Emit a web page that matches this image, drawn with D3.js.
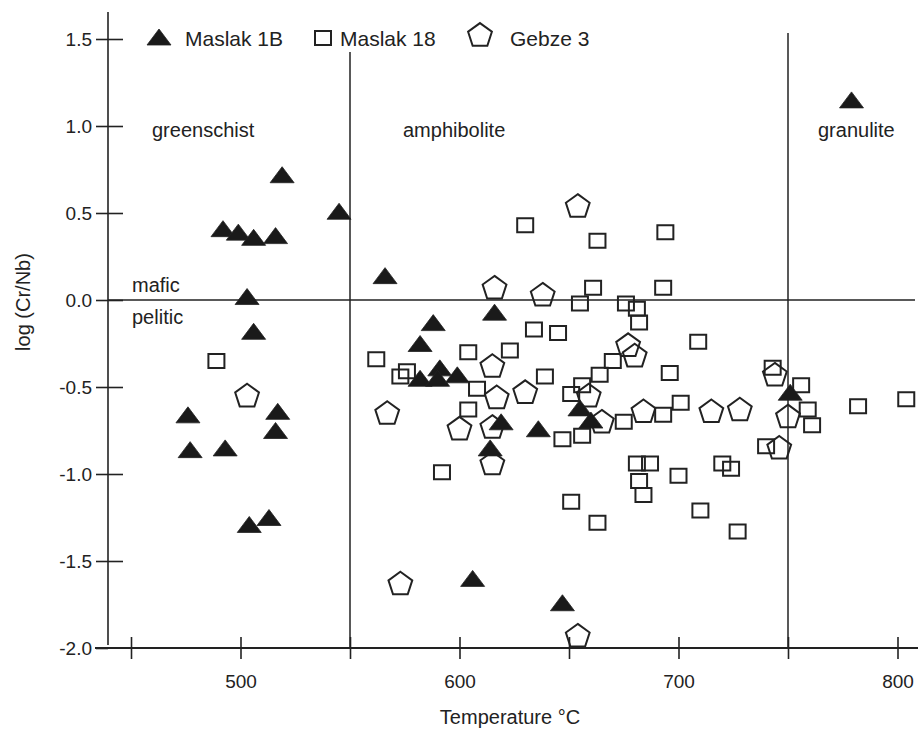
<!DOCTYPE html>
<html>
<head>
<meta charset="utf-8">
<script src="https://cdn.jsdelivr.net/npm/d3@7"></script>
<style>
  body { margin: 0; background: #fff; }
  svg text { font-family: "Liberation Sans", Arial, sans-serif; fill: #222; }
</style>
</head>
<body>
<svg id="chart"></svg>
<script>
// series: temperature (°C) and log(Cr/Nb)
var maslak1bT = [519, 545, 492, 499, 506, 516, 503, 506, 476, 517, 516, 477, 493, 504, 513,
                 566, 616, 588, 582, 582, 591, 590, 599, 619, 636, 614, 606, 647, 655, 660, 779, 751];
var maslak1bV = [0.72, 0.51, 0.41, 0.39, 0.36, 0.37, 0.02, -0.18, -0.66, -0.64, -0.75, -0.86, -0.85, -1.29, -1.25,
                 0.14, -0.07, -0.13, -0.25, -0.45, -0.39, -0.45, -0.43, -0.70, -0.74, -0.85, -1.60, -1.74, -0.62, -0.69, 1.15, -0.53];

var maslak18T = [489, 630, 634, 645, 562, 604, 623, 576, 573, 639, 608, 651, 604, 656, 664, 670, 682, 709, 696, 701,
                 693, 675, 656, 647, 681, 687, 700, 720, 724, 682, 684, 651, 663, 710, 727, 592, 663, 694, 661, 693,
                 655, 676, 681, 743, 756, 759, 761, 782, 804, 740];
var maslak18V = [-0.35, 0.43, -0.17, -0.19, -0.34, -0.30, -0.29, -0.41, -0.44, -0.44, -0.51, -0.54, -0.63, -0.49, -0.43, -0.35, -0.13, -0.24, -0.42, -0.59,
                 -0.66, -0.70, -0.78, -0.80, -0.94, -0.94, -1.01, -0.94, -0.97, -1.04, -1.12, -1.16, -1.28, -1.21, -1.33, -0.99, 0.34, 0.39, 0.07, 0.07,
                 -0.02, -0.02, -0.05, -0.39, -0.49, -0.63, -0.72, -0.61, -0.57, -0.84];

var gebze3T = [616, 638, 654, 615, 630, 617, 567, 600, 615, 615, 573, 654, 659, 665, 677, 680, 684, 715, 728, 744, 750, 746, 503];
var gebze3V = [0.07, 0.03, 0.54, -0.38, -0.53, -0.56, -0.65, -0.74, -0.73, -0.94, -1.63, -1.93, -0.55, -0.70, -0.26, -0.32, -0.64, -0.64, -0.63, -0.43, -0.67, -0.85, -0.55];

var seriesNames = ["Maslak 1B", "Maslak 18", "Gebze 3"];
var xTicks = [450, 500, 550, 600, 650, 700, 750, 800];
var xLabels = [500, 600, 700, 800];
var yTicks = [1.5, 1.0, 0.5, 0.0, -0.5, -1.0, -1.5, -2.0];
var faciesNames = ["greenschist", "amphibolite", "granulite"];
var faciesBounds = [550, 750];
var rockNames = ["mafic", "pelitic"];

var ink = "#222";

// marker shapes
var triPath = "M0,-8L12,8L-12,8Z";
var sqPath = "M-8,-7H8V7H-8Z";
var pentPath = (function()
{
    var r = 12.5, pts = [];
    for (var k = 0; k < 5; k++)
    {
        var a = -Math.PI / 2 + k * 2 * Math.PI / 5;
        pts.push([r * Math.cos(a), r * Math.sin(a) + 0.6]);
    }
    return "M" + pts.map(function(p){ return p[0].toFixed(2) + "," + p[1].toFixed(2); }).join("L") + "Z";
})();

var zip = function(ts, vs)
{
    return ts.map(function(t, i){ return {t: t, v: vs[i]}; });
};

var drawChart = function(target)
{
    var screen = {width: 918, height: 729};
    var svg = d3.select(target)
        .attr("width", screen.width)
        .attr("height", screen.height);

    var xScale = d3.scaleLinear().domain([550, 750]).range([350, 788]);
    var yScale = d3.scaleLinear().domain([0, -2]).range([300, 648]);

    // y axis (plain hyphen for negatives, as in the original)
    var fmt = d3.format(".1f");
    var yAxis = d3.axisLeft(yScale)
        .tickValues(yTicks)
        .tickFormat(function(d){ return fmt(d).replace("\u2212", "-"); })
        .tickSizeInner(11)
        .tickSizeOuter(0)
        .tickPadding(5);
    var gy = svg.append("g")
        .attr("transform", "translate(108,0)")
        .call(yAxis);
    gy.select(".domain").remove();
    gy.selectAll(".tick line").attr("x2", -12).attr("x1", 15)
        .attr("stroke", ink).attr("stroke-width", 1.6);
    gy.selectAll(".tick text").style("font-size", "19px").attr("fill", ink);
    gy.select(".tick:last-of-type line").attr("x1", 0);
    svg.append("line")
        .attr("x1", 108).attr("x2", 108).attr("y1", 12).attr("y2", 645)
        .attr("stroke", ink).attr("stroke-width", 1.6);

    // x axis
    var xAxis = d3.axisBottom(xScale)
        .tickValues(xTicks)
        .tickFormat(function(d){ return xLabels.indexOf(d) >= 0 ? d : ""; })
        .tickSizeInner(11)
        .tickSizeOuter(0)
        .tickPadding(16);
    var gx = svg.append("g")
        .attr("transform", "translate(0," + yScale(-2) + ")")
        .call(xAxis);
    gx.select(".domain").remove();
    gx.selectAll(".tick line").attr("y1", -11).attr("stroke", ink).attr("stroke-width", 1.6);
    gx.selectAll(".tick text").style("font-size", "19px").attr("fill", ink);
    svg.append("line")
        .attr("x1", 95).attr("x2", 918).attr("y1", yScale(-2)).attr("y2", yScale(-2))
        .attr("stroke", ink).attr("stroke-width", 2);

    // axis titles
    svg.append("text")
        .attr("x", 510).attr("y", 724)
        .attr("text-anchor", "middle")
        .style("font-size", "20px")
        .text("Temperature °C");
    svg.append("text")
        .attr("transform", "translate(30,302) rotate(-90)")
        .attr("text-anchor", "middle")
        .style("font-size", "20px")
        .text("log (Cr/Nb)");

    // facies boundaries and mafic / pelitic divide
    svg.append("line")
        .attr("x1", xScale(faciesBounds[0])).attr("x2", xScale(faciesBounds[0]))
        .attr("y1", 52).attr("y2", yScale(-2))
        .attr("stroke", ink).attr("stroke-width", 1.5);
    svg.append("line")
        .attr("x1", xScale(faciesBounds[1])).attr("x2", xScale(faciesBounds[1]))
        .attr("y1", 33).attr("y2", yScale(-2))
        .attr("stroke", ink).attr("stroke-width", 1.5);
    svg.append("line")
        .attr("x1", 108).attr("x2", 915).attr("y1", yScale(0)).attr("y2", yScale(0))
        .attr("stroke", ink).attr("stroke-width", 1.5);

    // facies labels
    var faciesX = [152, 403, 818];
    svg.selectAll(".facies")
        .data(faciesNames)
        .enter()
        .append("text")
        .attr("x", function(d, i){ return faciesX[i]; })
        .attr("y", 137)
        .style("font-size", "20px")
        .text(function(d){ return d; });
    svg.selectAll(".rock")
        .data(rockNames)
        .enter()
        .append("text")
        .attr("x", 132)
        .attr("y", function(d, i){ return i === 0 ? 292 : 324; })
        .style("font-size", "20px")
        .text(function(d){ return d; });

    // points
    var drawPoints = function(data, path, fill)
    {
        svg.append("g")
            .selectAll("path")
            .data(data)
            .enter()
            .append("path")
            .attr("d", path)
            .attr("transform", function(d){ return "translate(" + xScale(d.t) + "," + yScale(d.v) + ")"; })
            .attr("fill", fill)
            .attr("stroke", ink)
            .attr("stroke-width", fill === "none" ? 2 : 0.8)
            .attr("stroke-linejoin", "miter");
    };
    drawPoints(zip(maslak18T, maslak18V), sqPath, "none");
    drawPoints(zip(gebze3T, gebze3V), pentPath, "none");
    drawPoints(zip(maslak1bT, maslak1bV), triPath, "#1a1a1a");

    // legend
    var legend = [
        {name: seriesNames[0], path: triPath, fill: "#1a1a1a", mx: 159, my: 37, tx: 185},
        {name: seriesNames[1], path: sqPath, fill: "none", mx: 323, my: 38, tx: 340},
        {name: seriesNames[2], path: pentPath, fill: "none", mx: 480, my: 35, tx: 510}
    ];
    var lg = svg.append("g").selectAll("g")
        .data(legend)
        .enter()
        .append("g");
    lg.append("path")
        .attr("d", function(d){ return d.path; })
        .attr("transform", function(d){ return "translate(" + d.mx + "," + d.my + ")"; })
        .attr("fill", function(d){ return d.fill; })
        .attr("stroke", ink)
        .attr("stroke-width", function(d){ return d.fill === "none" ? 2 : 0.8; });
    lg.append("text")
        .attr("x", function(d){ return d.tx; })
        .attr("y", 46)
        .style("font-size", "21px")
        .text(function(d){ return d.name; });
};

drawChart("#chart");
</script>
</body>
</html>
